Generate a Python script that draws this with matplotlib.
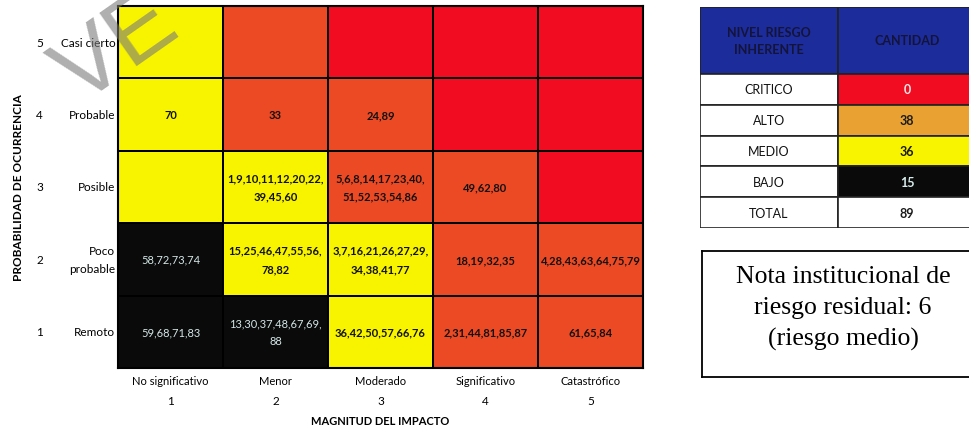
import matplotlib.pyplot as plt
import numpy as np
from matplotlib.colors import ListedColormap, BoundaryNorm
from matplotlib.patches import Rectangle

plt.rcParams['font.family'] = ['Lato', 'DejaVu Sans']

# risk level per cell, rows from Remoto (1) up to Casi cierto (5)
# 1 = bajo, 2 = medio, 3 = alto, 4 = critico
levels = [
    [1, 1, 2, 3, 3],
    [1, 2, 2, 3, 3],
    [2, 2, 3, 3, 4],
    [2, 3, 3, 4, 4],
    [2, 3, 4, 4, 4],
]
cell_text = [
    ['59,68,71,83', '13,30,37,48,67,69,\n88', '36,42,50,57,66,76', '2,31,44,81,85,87', '61,65,84'],
    ['58,72,73,74', '15,25,46,47,55,56,\n78,82', '3,7,16,21,26,27,29,\n34,38,41,77', '18,19,32,35', '4,28,43,63,64,75,79'],
    ['', '1,9,10,11,12,20,22,\n39,45,60', '5,6,8,14,17,23,40,\n51,52,53,54,86', '49,62,80', ''],
    ['70', '33', '24,89', '', ''],
    ['', '', '', '', ''],
]
prob_names = ['Remoto', 'Poco\nprobable', 'Posible', 'Probable', 'Casi cierto']
impact_names = ['No significativo', 'Menor', 'Moderado', 'Significativo', 'Catastrófico']

level_colors = ['#0a0a0a', '#f8f400', '#ec4a24', '#f20c22']

summary_levels = ['CRITICO', 'ALTO', 'MEDIO', 'BAJO', 'TOTAL']
summary_counts = [0, 38, 36, 15, 89]
summary_colors = ['#f20c22', '#e9a232', '#f8f400', '#0a0a0a', 'white']
summary_text_colors = ['#f4e6e6', '#1a1a1a', '#1a1a1a', '#d8ecec', '#1a1a1a']

nota = 'Nota institucional de\nriesgo residual: 6\n(riesgo medio)'

W, H = 970, 427
fig = plt.figure(figsize=(W / 100, H / 100), dpi=100)


def px_axes(x0, y0, x1, y1):
    return fig.add_axes([x0 / W, 1 - y1 / H, (x1 - x0) / W, (y1 - y0) / H])


# ---- risk matrix ----
ax = px_axes(118, 7, 643, 369)
lev = np.array(levels)
cmap = ListedColormap(level_colors)
norm = BoundaryNorm([0.5, 1.5, 2.5, 3.5, 4.5], cmap.N)
edges = np.arange(0.5, 6.0, 1.0)
ax.pcolormesh(edges, edges, lev, cmap=cmap, norm=norm, edgecolors='black', linewidth=1.2)
ax.set_xlim(0.5, 5.5)
ax.set_ylim(0.5, 5.5)
ax.set_xticks([])
ax.set_yticks([])
for s in ax.spines.values():
    s.set_linewidth(1.5)

for r in range(5):
    for c in range(5):
        txt = cell_text[r][c]
        if not txt:
            continue
        if lev[r, c] == 1:
            ax.text(c + 1, r + 1, txt, ha='center', va='center', fontsize=8,
                    color='#d4e6e6', linespacing=1.8)
        else:
            ax.text(c + 1, r + 1, txt, ha='center', va='center', fontsize=8,
                    fontweight='bold', color='#111111', linespacing=1.8)

ytr = ax.get_yaxis_transform()
for r, name in enumerate(prob_names):
    ax.text(-0.005, r + 1, name, transform=ytr, ha='right', va='center',
            fontsize=8.5, linespacing=1.7)
    ax.text(-0.149, r + 1, str(r + 1), transform=ytr, ha='center', va='center', fontsize=8.5)

xtr = ax.get_xaxis_transform()
for c, name in enumerate(impact_names):
    ax.text(c + 1, -0.035, name, transform=xtr, ha='center', va='center', fontsize=8)
    ax.text(c + 1, -0.09, str(c + 1), transform=xtr, ha='center', va='center', fontsize=8.5)
ax.text(0.5, -0.146, 'MAGNITUD DEL IMPACTO', transform=ax.transAxes, ha='center',
        va='center', fontsize=8, fontweight='bold')
ax.text(-0.19, 0.5, 'PROBABILIDAD DE OCURRENCIA', transform=ax.transAxes, ha='center',
        va='center', rotation=90, fontsize=8.5, fontweight='bold')

# ---- summary table ----
tax = px_axes(700, 8, 976, 229)
row_h = [1.0] * len(summary_levels)
head_h = 2.17
total_h = head_h + sum(row_h)
tax.set_xlim(0, 2)
tax.set_ylim(total_h, 0)
tax.axis('off')

tax.add_patch(Rectangle((0, 0), 1, head_h, facecolor='#1c2c9a', edgecolor='#222222', lw=1.2))
tax.add_patch(Rectangle((1, 0), 1, head_h, facecolor='#1c2c9a', edgecolor='#222222', lw=1.2))
tax.text(0.5, head_h / 2, 'NIVEL RIESGO\nINHERENTE', ha='center', va='center', fontsize=9,
         fontweight='bold', color='#14143a', linespacing=1.5)
tax.text(1.5, head_h / 2, 'CANTIDAD', ha='center', va='center', fontsize=9,
         fontweight='bold', color='#14143a')

y = head_h
for name, cnt, col, tcol, h in zip(summary_levels, summary_counts, summary_colors,
                                   summary_text_colors, row_h):
    tax.add_patch(Rectangle((0, y), 1, h, facecolor='white', edgecolor='#222222', lw=1.2))
    tax.add_patch(Rectangle((1, y), 1, h, facecolor=col, edgecolor='#222222', lw=1.2))
    tax.text(0.5, y + h / 2, name, ha='center', va='center', fontsize=9, color='#111111')
    tax.text(1.5, y + h / 2, str(cnt), ha='center', va='center', fontsize=9,
             fontweight='bold', color=tcol)
    y += h

# ---- note box ----
nax = px_axes(702, 252, 984, 378)
nax.set_xticks([])
nax.set_yticks([])
for s in nax.spines.values():
    s.set_linewidth(1.3)
nax.text(0.5, 0.55, nota, ha='center', va='center', fontsize=18.5,
         family='Liberation Serif', linespacing=1.5, transform=nax.transAxes)

# ---- watermark ----
fig.text(40 / W, 1 - 102 / H, 'VE', fontsize=68, color='#7a7a7a', alpha=0.6,
         rotation=35, ha='left', va='baseline', family='Liberation Sans', zorder=10)

fig.savefig('out.png', dpi=100)
